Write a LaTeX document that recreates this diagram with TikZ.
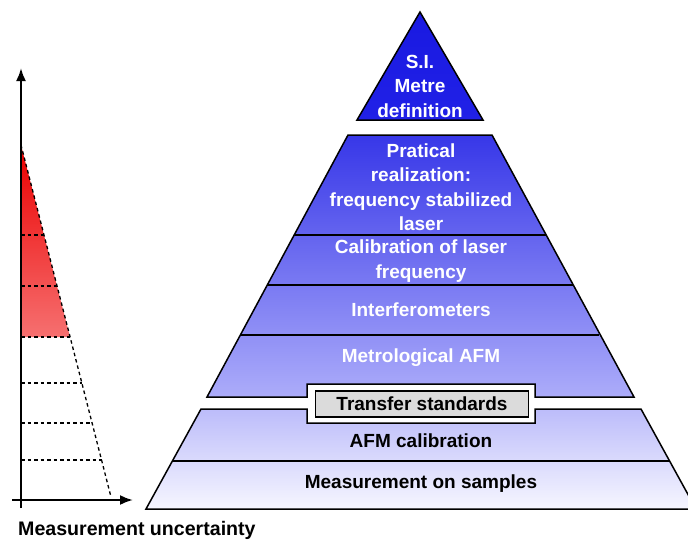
\documentclass[tikz,border=0pt]{standalone}
\usepackage{fontspec}
\setmainfont{Liberation Sans}
\usetikzlibrary{arrows.meta}
\definecolor{topblue}{RGB}{25,25,225}
\definecolor{midblue}{RGB}{55,55,232}
\definecolor{lowblue}{RGB}{172,172,250}
\definecolor{paleblue}{RGB}{188,188,250}
\definecolor{whiteblue}{RGB}{246,246,255}
\definecolor{darkred}{RGB}{235,0,0}
\definecolor{lightred}{RGB}{246,112,112}
\begin{document}
\begin{tikzpicture}[x=1pt, y=-1pt,
        level/.style={draw=black, line width=1.5pt, line join=miter},
        sep/.style={draw=black, line width=1.5pt},
        layertext/.style={font=\bfseries\fontsize{19}{24.5}\selectfont, align=center, inner sep=0pt},
        axis/.style={draw=black, line width=2.2pt, -{Latex[length=13pt, width=10pt]}},
        guide/.style={draw=black, line width=1.3pt, dash pattern=on 3.5pt off 3pt}
    ]
        \useasboundingbox (0,0) rectangle (688,541);

        % Uncertainty triangle
        \shade[top color=darkred, bottom color=lightred] (21,145) -- (70,337) -- (21,337) -- cycle;
        \coordinate (apex) at (21,145);
        \coordinate (foot) at (111,497);
        \draw[guide] (apex) -- (foot);
        \foreach \yy in {235,286,337,383,423,460}
            \draw[guide] (21,\yy) -- ({21+0.2557*(\yy-145)},\yy);

        % Axes
        \coordinate (origin) at (21,500);
        \coordinate (ytip) at (21,68);
        \coordinate (xtip) at (133,500);
        \draw[axis] (21,508) -- (ytip);
        \draw[axis] (12,500) -- (xtip);
        \node[font=\bfseries\fontsize{19.6}{22}\selectfont, anchor=base west, inner sep=0pt] (uncert) at (18,535) {Measurement uncertainty};

        % Top triangle
        \shade[top color=topblue, bottom color=topblue!85!blue!95!white] (420,12) -- (483,120) -- (357,120) -- cycle;
        \draw[level] (420,12) -- (483,120) -- (357,120) -- cycle;

        % Upper part
        \shade[top color=midblue, bottom color=lowblue] (348,135) -- (492,135) -- (634,397) -- (535,397) -- (535,384) -- (307,384) -- (307,397) -- (207,397) -- cycle;
        \draw[sep] (294,235) -- (546,235);
        \draw[sep] (267,285) -- (573,285);
        \draw[sep] (241,335) -- (599,335);
        \draw[level] (348,135) -- (492,135) -- (634,397) -- (535,397) -- (535,384) -- (307,384) -- (307,397) -- (207,397) -- cycle;

        % Lower part
        \shade[top color=paleblue, bottom color=whiteblue] (201,409) -- (307,409) -- (307,423) -- (535,423) -- (535,409) -- (641,409) -- (696,509) -- (146,509) -- cycle;
        \draw[sep] (173,461) -- (669,461);
        \draw[level] (201,409) -- (307,409) -- (307,423) -- (535,423) -- (535,409) -- (641,409) -- (696,509) -- (146,509) -- cycle;

        % Transfer standards
        \node[draw=black, line width=1.5pt, fill=gray!28, minimum width=213pt, minimum height=26pt, inner sep=0pt, font=\bfseries\fontsize{19}{20}\selectfont] (transfer) at (422,404) {Transfer standards};

        % Layer texts
        \node[layertext, text=white] (si) at (420,86) {S.I.\\Metre\\definition};
        \node[layertext, text=white] (laser) at (421,187) {Pratical\\realization:\\frequency stabilized\\laser};
        \node[layertext, text=white] (calib) at (421,261) {Calibration of laser\\frequency};
        \node[layertext, text=white] (interf) at (421,310) {Interferometers};
        \node[layertext, text=white] (metafm) at (421,358) {Metrological AFM};
        \node[layertext] (afmcal) at (421,441) {AFM calibration};
        \node[layertext] (samples) at (421,484) {Measurement on samples};
    \end{tikzpicture}
\end{document}
